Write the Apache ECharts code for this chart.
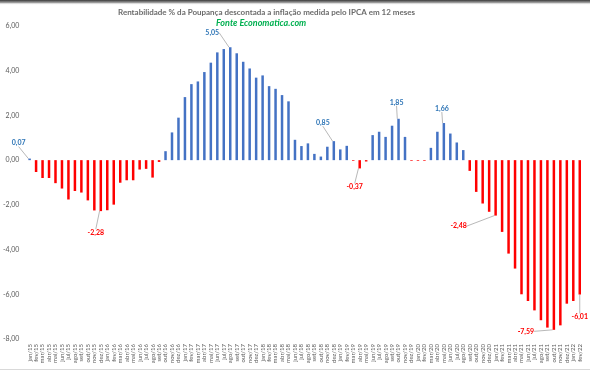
<!DOCTYPE html>
<html>
<head>
<meta charset="utf-8">
<script src="https://cdn.jsdelivr.net/npm/echarts@6/dist/echarts.min.js"></script>
<style>
html,body{margin:0;padding:0;background:#fff;}
#c{width:590px;height:372px;}
</style>
</head>
<body>
<div id="c"></div>
<script>
var titleText = 'Rentabilidade % da Poupança descontada a inflação medida pelo IPCA em 12 meses';
var subtitleText = 'Fonte Economatica.com';

var categories = [
 'jan/15','fev/15','mar/15','abr/15','mai/15','jun/15','jul/15','ago/15','set/15','out/15','nov/15','dez/15',
 'jan/16','fev/16','mar/16','abr/16','mai/16','jun/16','jul/16','ago/16','set/16','out/16','nov/16','dez/16',
 'jan/17','fev/17','mar/17','abr/17','mai/17','jun/17','jul/17','ago/17','set/17','out/17','nov/17','dez/17',
 'jan/18','fev/18','mar/18','abr/18','mai/18','jun/18','jul/18','ago/18','set/18','out/18','nov/18','dez/18',
 'jan/19','fev/19','mar/19','abr/19','mai/19','jun/19','jul/19','ago/19','set/19','out/19','nov/19','dez/19',
 'jan/20','fev/20','mar/20','abr/20','mai/20','jun/20','jul/20','ago/20','set/20','out/20','nov/20','dez/20',
 'jan/21','fev/21','mar/21','abr/21','mai/21','jun/21','jul/21','ago/21','set/21','out/21','nov/21','dez/21',
 'jan/22','fev/22'
];

var values = [
 0.07,-0.53,-0.80,-0.80,-1.03,-1.27,-1.76,-1.38,-1.45,-1.80,-2.25,-2.28,
 -2.24,-1.99,-1.01,-0.90,-0.90,-0.42,-0.39,-0.78,-0.08,0.40,1.24,1.90,
 2.82,3.40,3.52,3.94,4.36,4.82,4.97,5.05,4.78,4.40,4.10,3.69,
 3.79,3.31,3.19,2.91,2.63,0.91,0.63,0.75,0.28,0.16,0.60,0.85,
 0.48,0.64,-0.03,-0.37,-0.06,1.12,1.27,1.04,1.54,1.85,1.04,-0.03,
 -0.03,-0.03,0.55,1.27,1.66,1.19,0.79,0.45,-0.48,-1.42,-1.94,-2.31,
 -2.48,-3.21,-4.18,-4.85,-6.00,-6.30,-6.72,-7.16,-7.49,-7.59,-7.39,-6.42,
 -6.30,-6.01
];

var yTicks = [-8, -6, -4, -2, 0, 2, 4, 6];

// categories whose values are annotated
var labeledIdx = [0, 11, 31, 47, 51, 57, 64, 72, 81, 85];
var labelOffsets = {
  0: [-11, -7], 11: [-5, 13], 31: [-18, -6], 47: [-11, -10], 51: [-5, 10],
  57: [-2, -8], 64: [-2, -6], 72: [-37, 2], 81: [-28, -7], 85: [0, 14]
};

var BLUE = '#4472C4', RED = '#FF0000';
var fmt = function (v) { return v.toFixed(2).replace('.', ','); };

var seriesData = values.map(function (v, i) {
  var item = { value: v, itemStyle: { color: v >= 0 ? BLUE : RED } };
  if (labeledIdx.indexOf(i) >= 0) {
    item.label = {
      show: true,
      position: v >= 0 ? 'top' : 'bottom',
      color: v >= 0 ? '#2E75B6' : RED,
      fontSize: 7,
      fontWeight: 'bold',
      fontFamily: 'Lato',
      formatter: function (p) { return fmt(p.value); }
    };
    item.labelLine = { show: true, lineStyle: { color: '#A6A6A6', width: 0.8 } };
  }
  return item;
});

var chart = echarts.init(document.getElementById('c'), null, { renderer: 'canvas' });
chart.setOption({
  animation: false,
  backgroundColor: '#ffffff',
  title: [
    { text: titleText, left: 118, top: 8, padding: 0,
      textStyle: { fontFamily: 'Lato', fontSize: 8, fontWeight: 'bold', color: '#6b6b6b' } },
    { text: subtitleText, left: 216, top: 19, padding: 0,
      textStyle: { fontFamily: 'Lato', fontSize: 9, fontWeight: 'bold', fontStyle: 'italic', color: '#00B050' } }
  ],
  graphic: [
    { type: 'rect', shape: { x: 0, y: 0, width: 590, height: 5 }, silent: true,
      style: { fill: { type: 'linear', x: 0, y: 0, x2: 0, y2: 1,
        colorStops: [{ offset: 0, color: '#3a3a3a' }, { offset: 0.5, color: '#9a9a9a' }, { offset: 1, color: 'rgba(255,255,255,0)' }] } } },
    { type: 'line', shape: { x1: 0, y1: 369.5, x2: 590, y2: 369.5 }, silent: true,
      style: { stroke: '#d9d9d9', lineWidth: 1 } }
  ],
  grid: { left: 23, right: 7, top: 26, bottom: 33, containLabel: false },
  xAxis: {
    type: 'category',
    data: categories,
    axisLine: { show: false },
    axisTick: { show: false },
    axisLabel: { interval: 0, rotate: 90, fontSize: 6, color: '#595959', fontFamily: 'Lato', margin: 5 }
  },
  yAxis: {
    type: 'value',
    min: yTicks[0], max: yTicks[yTicks.length - 1], interval: 2,
    axisLine: { show: false },
    axisTick: { show: false },
    splitLine: { show: false },
    axisLabel: { fontSize: 7, color: '#595959', fontFamily: 'Lato', margin: 7,
      formatter: function (v) { return fmt(v); } }
  },
  series: [{
    type: 'bar',
    data: seriesData,
    barWidth: 2.5,
    labelLayout: function (params) {
      var o = labelOffsets[params.dataIndex];
      if (!o) return {};
      return { dx: o[0], dy: o[1] };
    },
    labelLine: { show: false }
  }]
});
</script>
</body>
</html>
